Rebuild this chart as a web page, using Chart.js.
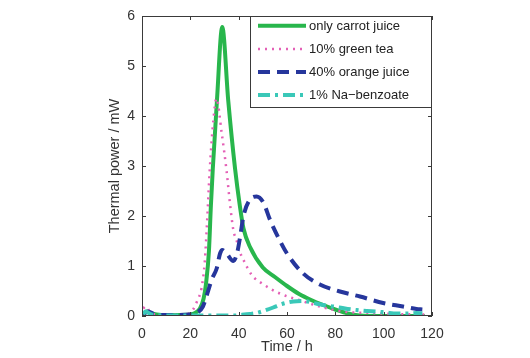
<!DOCTYPE html>
<html>
<head>
<meta charset="utf-8">
<script src="https://cdn.jsdelivr.net/npm/chart.js@4/dist/chart.umd.min.js"></script>
<style>
html,body{margin:0;padding:0;background:#fff;}
#wrap{width:530px;height:358px;}
</style>
</head>
<body>
<div id="wrap"><canvas id="c" width="530" height="358"></canvas></div>
<script>
// ---- data ----
const xTicks = [0, 20, 40, 60, 80, 100, 120];
const yTicks = [0, 1, 2, 3, 4, 5, 6];

const seriesNames = ["only carrot juice", "10% green tea", "40% orange juice", "1% Na\u2212benzoate"];

const carrotTime = [0.5, 2, 4, 8, 14, 20, 22, 24, 25.5, 26.5, 27.7, 28.5, 29.3, 31, 33.2, 35.7, 38.5, 40.5, 42, 44.7, 50, 55, 60, 65, 70, 75, 80, 85, 90, 100, 110, 117];
const carrotPower = [0.03, 0.09, 0.05, 0.02, 0.02, 0.03, 0.06, 0.15, 0.35, 0.65, 1.3, 2.2, 2.95, 4.3, 5.78, 4.3, 2.95, 2.2, 1.75, 1.38, 0.97, 0.78, 0.6, 0.44, 0.32, 0.22, 0.13, 0.05, 0.01, 0, 0, 0];

const teaTime = [0.5, 1.5, 4, 10, 18, 21, 23, 24.6, 26, 27, 28, 29.5, 30.8, 33, 35, 36.4, 37.8, 39.2, 40.5, 42, 45.4, 50, 57, 65, 73.6, 83, 95, 105, 117];
const teaPower = [0.15, 0.19, 0.05, 0.02, 0.03, 0.12, 0.32, 0.55, 1.1, 1.95, 2.9, 3.9, 4.35, 3.65, 2.9, 2.25, 1.72, 1.5, 1.28, 1.12, 0.82, 0.64, 0.45, 0.32, 0.19, 0.09, 0.06, 0.04, 0.03];

const orangeTime = [0.5, 2.5, 5, 10, 15, 20, 22.6, 25.2, 27.3, 29, 30.9, 32.3, 33.2, 35, 37.8, 39.3, 40.5, 42, 44.7, 47.4, 50.2, 53, 56.4, 60, 66.7, 73.6, 81.9, 90.2, 99.8, 108, 113.6, 116];
const orangePower = [0.03, 0.09, 0.04, 0.02, 0.02, 0.03, 0.06, 0.19, 0.49, 0.75, 0.95, 1.25, 1.32, 1.25, 1.1, 1.25, 1.55, 2.0, 2.33, 2.39, 2.27, 1.92, 1.57, 1.25, 0.85, 0.63, 0.49, 0.39, 0.26, 0.19, 0.14, 0.13];

const benzoateTime = [0.5, 1.5, 4, 10, 20, 30, 38, 40.5, 44.7, 47.4, 50.2, 54.3, 58, 62.6, 67, 70.9, 76, 79.2, 84, 88.8, 93, 97, 101, 105.4, 110, 113.6, 116];
const benzoatePower = [0.04, 0.09, 0.03, 0.01, 0.01, 0.01, 0.01, 0.02, 0.04, 0.06, 0.1, 0.17, 0.24, 0.29, 0.3, 0.26, 0.21, 0.19, 0.15, 0.12, 0.1, 0.09, 0.07, 0.05, 0.05, 0.06, 0.05];

// ---- build ----
const pts = (t, v) => t.map((x, i) => ({x: x, y: v[i]}));
const FONT = "'Liberation Sans', Arial, Helvetica, sans-serif";

const styles = [
  {color: 'rgb(40,182,76)', width: 4, dash: []},
  {color: 'rgb(228,96,182)', width: 2.5, dash: [2, 5]},
  {color: 'rgb(38,54,156)', width: 4, dash: [12, 7]},
  {color: 'rgb(58,200,184)', width: 4, dash: [12, 5, 3, 5]}
];
const series = [
  pts(carrotTime, carrotPower),
  pts(teaTime, teaPower),
  pts(orangeTime, orangePower),
  pts(benzoateTime, benzoatePower)
];
// draw order: benzoate, orange, tea, carrot (carrot on top)
const order = [3, 2, 1, 0];
const datasets = order.map(i => ({
  label: seriesNames[i],
  data: series[i],
  borderColor: styles[i].color,
  borderWidth: styles[i].width,
  borderDash: styles[i].dash,
  borderCapStyle: 'butt',
  pointRadius: 0,
  fill: false,
  cubicInterpolationMode: 'monotone'
}));

const frame = {
  id: 'frame',
  afterDatasetsDraw(chart) {
    const {ctx, chartArea: a, scales: {x, y}} = chart;
    ctx.save();
    ctx.strokeStyle = '#3a3a3a';
    ctx.lineWidth = 1;
    ctx.setLineDash([]);
    ctx.strokeRect(a.left + 0.5, a.top + 0.5, a.right - a.left - 1, a.bottom - a.top - 1);
    const tl = 4;
    ctx.beginPath();
    xTicks.forEach(v => {
      const px = Math.round(x.getPixelForValue(v)) + 0.5;
      ctx.moveTo(px, a.bottom); ctx.lineTo(px, a.bottom - tl);
      ctx.moveTo(px, a.top); ctx.lineTo(px, a.top + tl);
    });
    yTicks.forEach(v => {
      const py = Math.round(y.getPixelForValue(v)) + 0.5;
      ctx.moveTo(a.left, py); ctx.lineTo(a.left + tl, py);
      ctx.moveTo(a.right, py); ctx.lineTo(a.right - tl, py);
    });
    ctx.stroke();

    // legend box (upper right, inside axes)
    const bx = 250, by = a.top, bw = a.right - 250, bh = 92;
    ctx.fillStyle = '#fff';
    ctx.fillRect(bx, by, bw, bh);
    ctx.strokeStyle = '#3a3a3a';
    ctx.strokeRect(bx + 0.5, by + 0.5, bw - 1, bh - 1);
    ctx.font = '13px ' + FONT;
    ctx.textBaseline = 'middle';
    ctx.textAlign = 'left';
    const rows = [9.7, 33, 56, 79];
    [0, 1, 2, 3].forEach((i, r) => {
      const yy = by + rows[r];
      ctx.beginPath();
      ctx.strokeStyle = styles[i].color;
      ctx.lineWidth = styles[i].width;
      ctx.setLineDash(styles[i].dash);
      ctx.lineCap = 'butt';
      ctx.moveTo(258, yy); ctx.lineTo(306, yy);
      ctx.stroke();
      ctx.fillStyle = '#222';
      ctx.fillText(seriesNames[i], 309, yy + 0.5);
    });
    ctx.restore();
  }
};

new Chart(document.getElementById('c'), {
  type: 'line',
  data: {datasets: datasets},
  options: {
    responsive: false,
    animation: false,
    devicePixelRatio: 1,
    layout: {padding: {left: 102, right: 98, top: 16, bottom: 0}},
    plugins: {legend: {display: false}, tooltip: {enabled: false}},
    scales: {
      x: {
        type: 'linear', min: 0, max: 120,
        afterBuildTicks: s => { s.ticks = xTicks.map(v => ({value: v})); },
        afterFit: s => { s.height = 42; },
        grid: {display: false, drawTicks: false},
        border: {display: false},
        ticks: {color: '#333', font: {family: FONT, size: 14}, padding: 10, maxRotation: 0, autoSkip: false},
        title: {display: true, text: 'Time / h', color: '#333', font: {family: FONT, size: 14.5}, padding: {top: 0, bottom: 2}}
      },
      y: {
        type: 'linear', min: 0, max: 6,
        afterBuildTicks: s => { s.ticks = yTicks.map(v => ({value: v})); },
        afterFit: s => { s.width = 40; },
        grid: {display: false, drawTicks: false},
        border: {display: false},
        ticks: {color: '#333', font: {family: FONT, size: 14}, padding: 7},
        title: {display: true, text: 'Thermal power / mW', color: '#333', font: {family: FONT, size: 14.5}, padding: {top: 4, bottom: 0}}
      }
    }
  },
  plugins: [frame]
});
</script>
</body>
</html>
